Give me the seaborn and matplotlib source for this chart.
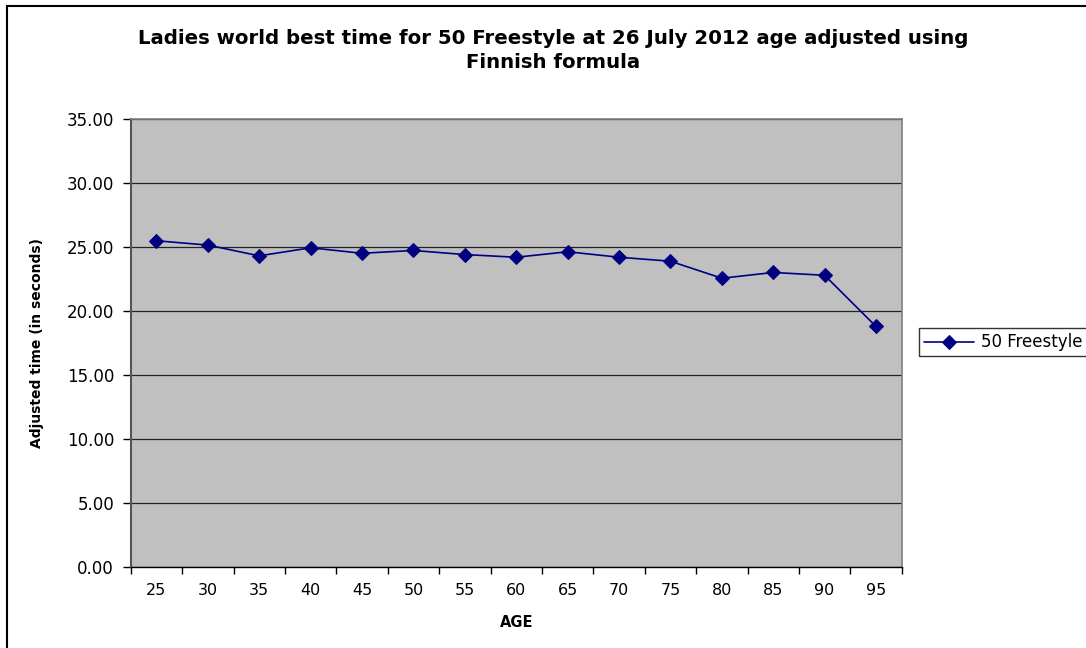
import matplotlib
matplotlib.use("Agg")
import matplotlib.pyplot as plt
import matplotlib.patches as mpatches
import seaborn as sns
import pandas as pd
import numpy as np

ages = ["25", "30", "35", "40", "45", "50", "55", "60", "65", "70", "75", "80", "85", "90", "95"]
times = [25.48, 25.14, 24.30, 24.93, 24.50, 24.72, 24.40, 24.19, 24.62, 24.19, 23.88, 22.55, 23.00, 22.78, 18.78]
y_ticks = [0, 5, 10, 15, 20, 25, 30, 35]
series_name = "50 Freestyle"

sns.set_theme(style="white")
plt.rcParams['font.family'] = ['DejaVu Sans']
plt.rcParams['text.color'] = 'black'
plt.rcParams['axes.labelcolor'] = 'black'
plt.rcParams['xtick.color'] = 'black'
plt.rcParams['ytick.color'] = 'black'

df = pd.DataFrame({"AGE": ages, "time": times, "series": series_name})

fig = plt.figure(figsize=(10.86, 6.48), dpi=100)
fig.patch.set_facecolor("white")
ax = fig.add_axes([0.1204, 0.1255, 0.7099, 0.6909])
ax.set_facecolor("#C0C0C0")

sns.lineplot(data=df, x="AGE", y="time", hue="series", palette=["#000080"],
             marker="D", markersize=7, markeredgecolor="#000080",
             linewidth=1.2, ax=ax, sort=False)

ax.set_xlim(-0.5, len(ages) - 0.5)
ax.set_ylim(0, 35)
ax.set_yticks(y_ticks)
ax.set_yticklabels([f"{v:.2f}" for v in y_ticks], fontsize=12)
ax.set_xticks(range(len(ages)))
ax.set_xticklabels(ages, fontsize=11.5)
ax.set_xticks(np.arange(-0.5, len(ages), 1.0), minor=True)
ax.tick_params(axis="x", which="major", bottom=True, length=0, pad=12, labelcolor="black")
ax.tick_params(axis="x", which="minor", bottom=True, length=5, width=1, color="black", direction="out")
ax.tick_params(axis="y", which="major", left=True, length=6, width=1, color="black", direction="out", pad=6, labelcolor="black")
ax.yaxis.grid(True, color="#222222", linewidth=0.9)
ax.xaxis.grid(False)
ax.set_axisbelow(True)

for side in ["top", "right"]:
    ax.spines[side].set_color("#808080")
    ax.spines[side].set_linewidth(1.2)
ax.spines["left"].set_color("#555555")
ax.spines["left"].set_linewidth(1.5)
ax.spines["bottom"].set_color("#000000")
ax.spines["bottom"].set_linewidth(1.0)

ax.set_xlabel("AGE", fontsize=10.5, fontweight="bold", labelpad=12)
ax.set_ylabel("Adjusted time (in seconds)", fontsize=10, fontweight="bold", labelpad=16)

fig.text(0.509, 0.922, "Ladies world best time for 50 Freestyle at 26 July 2012 age adjusted using\nFinnish formula",
         ha="center", va="center", fontsize=14.2, fontweight="bold", linespacing=1.35)

leg = ax.legend(loc="center left", bbox_to_anchor=(0.8462, 0.4715), bbox_transform=fig.transFigure,
                frameon=True, fancybox=False, fontsize=12, handlelength=3.0,
                borderpad=0.3, handletextpad=0.4, borderaxespad=0)
leg.get_frame().set_edgecolor("black")
leg.get_frame().set_linewidth(1.0)

fig.patches.append(mpatches.Rectangle((7 / 1086, -0.1), 1.2, 1 - 6 / 648 + 0.1,
                                      transform=fig.transFigure, fill=False,
                                      edgecolor="black", linewidth=1.5, zorder=10))

fig.savefig("out.png", dpi=100, facecolor="white")
